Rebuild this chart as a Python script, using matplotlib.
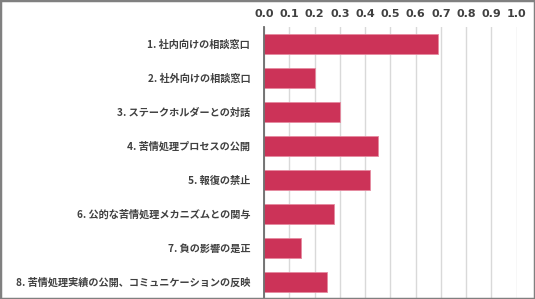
import numpy as np
import matplotlib
matplotlib.use('Agg')
import matplotlib.pyplot as plt
from matplotlib.patches import Rectangle

plt.rcParams['font.family'] = ['Noto Sans CJK JP', 'DejaVu Sans']

labels = ['1. 社内向けの相談窓口',
          '2. 社外向けの相談窓口',
          '3. ステークホルダーとの対話',
          '4. 苦情処理プロセスの公開',
          '5. 報復の禁止',
          '6. 公的な苦情処理メカニズムとの関与',
          '7. 負の影響の是正',
          '8. 苦情処理実績の公開、コミュニケーションの反映']
values = [0.69, 0.20, 0.30, 0.45, 0.42, 0.275, 0.145, 0.25]
x_ticks = np.arange(0, 1.01, 0.1)

fig = plt.figure(figsize=(5.35, 2.99), dpi=100)
ax = fig.add_axes([0.4935, 0.0, 0.4723, 0.909])

y = np.arange(len(labels))
ax.barh(y, values, height=0.58, color='#cc3358', edgecolor='#e58aa0', linewidth=0.6, zorder=3)
ax.set_ylim(len(labels) - 0.5, -0.5)
ax.set_xlim(0, 1.0)
ax.set_yticks(y)
ax.set_yticklabels(labels, fontsize=7.3, color='#404040', fontweight='bold')
ax.set_xticks(x_ticks)
ax.set_xticklabels(['%.1f' % t for t in x_ticks], fontsize=8, color='#404040', fontweight='bold',
                   family=['DejaVu Sans'])
ax.xaxis.tick_top()
ax.tick_params(axis='both', length=0)
ax.tick_params(axis='x', pad=6)
ax.tick_params(axis='y', pad=10)
ax.grid(axis='x', color='#d9d9d9', linewidth=1.0, zorder=0)
for s in ['top', 'right', 'bottom']:
    ax.spines[s].set_visible(False)
ax.spines['left'].set_color('#6b6b6b')
ax.spines['left'].set_linewidth(1.3)
ax.spines['left'].set_zorder(4)

fig.add_artist(Rectangle((0, 0), 1, 1, transform=fig.transFigure, fill=False,
                         edgecolor='#808080', linewidth=2.5, clip_on=False))

fig.savefig('out.png', dpi=100)
